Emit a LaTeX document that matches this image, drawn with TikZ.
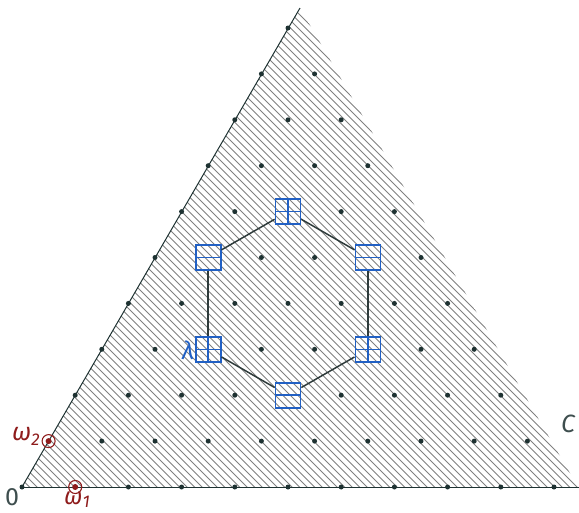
\documentclass[tikz,border=0pt]{standalone}
\usepackage{fontspec}
\setmainfont{Fira Sans}
\definecolor{dotc}{HTML}{1E3232}
\definecolor{labc}{HTML}{3E4E4E}
\definecolor{redc}{HTML}{8E1B1B}
\definecolor{bluec}{HTML}{2160C4}
\definecolor{hatchc}{HTML}{808080}
\definecolor{edgec}{HTML}{2E3B3B}
\newcommand\lowsub[2][-0.4ex]{\raisebox{#1}{\fontsize{17}{17}\selectfont #2}}
\begin{document}
\begin{tikzpicture}[x=1pt,y=-1pt,
  hatch/.style={hatchc,line width=0.85pt},
  axis/.style={dotc,line width=1pt},
  latdot/.style={circle,fill=dotc,inner sep=0pt,minimum size=5pt},
  reddot/.style={circle,fill=redc,inner sep=0pt,minimum size=6pt},
  redring/.style={circle,draw=redc,line width=1.1pt,inner sep=0pt,minimum size=13pt},
  ybox/.style={rectangle,draw=bluec,line width=1.6pt,inner sep=0pt,minimum size=25pt},
  twobytwo/.style={ybox,path picture={
     \draw[bluec,line width=1.6pt] (path picture bounding box.north) -- (path picture bounding box.south);
     \draw[bluec,line width=1.6pt] (path picture bounding box.west) -- (path picture bounding box.east);}},
  tworow/.style={ybox,path picture={
     \draw[bluec,line width=1.6pt] (path picture bounding box.west) -- (path picture bounding box.east);}},
  hexedge/.style={edgec,line width=1.5pt},
  lab/.style={font=\fontsize{25}{27}\selectfont,inner sep=0pt}]
\useasboundingbox (0,0) rectangle (579,512);
\coordinate (O) at (22,487);
\coordinate (top) at (300,8);
\coordinate (rc) at (578,487);
\coordinate (bend) at (579,487);
% hatching
\begin{scope}
  \clip (O) -- (top) -- (rc) -- cycle;
  \foreach \i in {-80,...,80} {
    \draw[hatch] ({\i*7.5},0) -- ++(560,560);
  }
\end{scope}
\draw[axis] (O) -- (top);
\draw[axis] (O) -- (bend);
% lattice dots
\foreach \a in {0,...,10} {
  \foreach \b in {0,...,10} {
    \pgfmathtruncatemacro\s{\a+\b}
    \pgfmathtruncatemacro\skip{
      (\s>10) || (\a==2 && \b==3) || (\a==4 && \b==2) || (\a==5 && \b==3) ||
      (\a==4 && \b==5) || (\a==2 && \b==6) || (\a==1 && \b==5) ||
      (\a==1 && \b==0) || (\a==0 && \b==1)}
    \ifnum\skip=0
      \node[latdot] (p\a-\b) at ({22+53.2*\a+26.6*\b},{487-45.9*\b}) {};
    \fi
  }
}
% fundamental weights
\node[reddot] (w1) at (75.2,487) {};
\node[redring] (w1r) at (w1) {};
\node[reddot] (w2) at (48.6,441.1) {};
\node[redring] (w2r) at (w2) {};
% hexagon boxes
\node[twobytwo] (L) at (208.2,349.3) {};
\node[tworow] (B) at (288,395.2) {};
\node[twobytwo] (RB) at (367.8,349.3) {};
\node[tworow] (RT) at (367.8,257.5) {};
\node[twobytwo] (T) at (288,211.6) {};
\node[tworow] (LT) at (208.2,257.5) {};
\draw[hexedge] (L) -- (B);
\draw[hexedge] (B) -- (RB);
\draw[hexedge] (RB) -- (RT);
\draw[hexedge] (RT) -- (T);
\draw[hexedge] (T) -- (LT);
\draw[hexedge] (LT) -- (L);
% labels
\node[lab,labc] (l0) at (12,497) {0};
\node[lab,labc] (lC) at (568,424) {\itshape C};
\node[lab,redc,anchor=base] (lw2) at (26,440) {\itshape ω\lowsub{2}};
\node[lab,redc,anchor=base,font=\fontsize{24}{26}\selectfont] (lw1) at (77,504) {\itshape ω\lowsub[-0.25ex]{1}};
\node[lab,bluec] (ll) at (188,350) {\itshape λ};
\end{tikzpicture}
\end{document}
